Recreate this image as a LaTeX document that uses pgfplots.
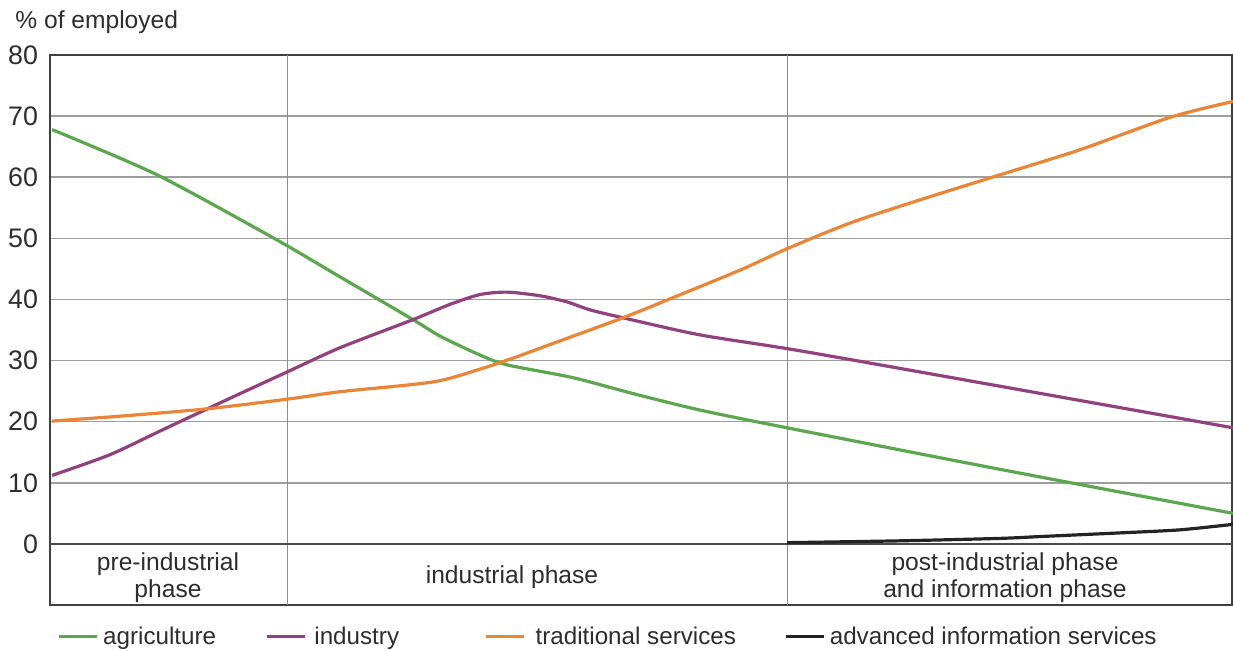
\documentclass[border=0pt]{standalone}
\usepackage{pgfplots}
\pgfplotsset{compat=1.18}
\usepackage{fontspec}
\setmainfont{Liberation Sans}
\definecolor{cagri}{RGB}{92,166,80}
\definecolor{cind}{RGB}{145,65,125}
\definecolor{cserv}{RGB}{234,132,54}
\definecolor{cadv}{RGB}{35,35,35}
\definecolor{ctext}{RGB}{45,45,45}
\begin{document}
\begin{tikzpicture}
\useasboundingbox (-25bp,-23bp) rectangle (591.5bp,302.5bp);
\begin{axis}[
  at={(0,0)}, anchor=south west,
  scale only axis, width=591bp, height=275bp,
  xmin=50, xmax=1232, ymin=-10, ymax=80,
  clip=false,
  xtick=\empty,
  ytick={10,20,...,80},
  extra y ticks={0},
  extra y tick style={grid style={black!70, line width=0.8bp}},
  extra x ticks={287,787},
  extra x tick labels={},
  extra x tick style={xmajorgrids=true, grid style={black!45, line width=0.5bp}},
  ymajorgrids=true,
  grid style={black!38, line width=0.8bp},
  major tick length=0pt,
  axis line style={black!75, line width=1bp},
  tick label style={font=\fontsize{13.4bp}{15bp}\selectfont, text=ctext},
  /pgf/number format/assume math mode=true,
  yticklabel style={xshift=-2.5bp},
  legend columns=4,
  legend style={draw=none, fill=none, inner sep=0pt, outer sep=0pt,
    column sep=0pt, at={(axis description cs:0,-0.058)}, anchor=west, xshift=3.5bp,
    font=\fontsize{12.1bp}{14bp}\selectfont, text=ctext,
    nodes={inner sep=0pt, anchor=west}},
  legend image code/.code={\draw[#1, line width=1.6bp] (0bp,0bp)--(19bp,0bp);},
]
\addplot[cagri, line width=1.6bp, smooth, tension=0.45] coordinates {
(52,67.8) (157,60.4) (273,50.1) (340,43.7) (413,36.7) (440,34.0)
(480,30.9) (507,29.3) (573,27.2) (633,24.6) (700,21.9) (787,19.0)
(1000,12.2) (1233,5.0)};
\addlegendentry{\makebox[83.5bp][l]{\hspace{2.5bp}agriculture}}
\addplot[cind, line width=1.6bp, smooth, tension=0.45] coordinates {
(52,11.2) (110,14.6) (163,18.7) (227,23.6) (288,28.2) (340,32.1) (413,36.7)
(450,39.2) (480,40.8) (507,41.2) (540,40.6) (567,39.6) (590,38.3) (623,37.0)
(700,34.2) (800,31.6) (1000,25.8) (1233,19.0)};
\addlegendentry{\makebox[89bp][l]{\hspace{4bp}industry}}
\addplot[cserv, line width=1.6bp, smooth, tension=0.45] coordinates {
(52,20.1) (120,20.9) (207,22.1) (288,23.7) (340,24.9) (433,26.5) (480,28.6)
(513,30.4) (563,33.4) (623,37.0) (667,39.9) (740,44.8) (787,48.3) (850,52.5)
(920,56.3) (1000,60.4) (1080,64.5) (1170,69.8) (1233,72.4)};
\addlegendentry{\makebox[129.5bp][l]{\hspace{5bp}traditional services}}
\addplot[cadv, line width=1.6bp, smooth, tension=0.45] coordinates {
(787,0.2) (900,0.5) (1000,0.9) (1040,1.2) (1120,1.8) (1180,2.3) (1233,3.2)};
\addlegendentry{\hspace{2bp}advanced information services}
\node[anchor=west, font=\fontsize{12.3bp}{14bp}\selectfont, text=ctext, inner sep=0pt]
  at (axis description cs:0,1) [xshift=-17.5bp, yshift=16.5bp] {\% of employed};
\begin{scope}[every node/.style={align=center, inner sep=0pt, text=ctext,
   font=\fontsize{12.3bp}{13.5bp}\selectfont}]
\node at (axis cs:168,-5.6) {pre-industrial\\phase};
\node at (axis cs:512,-5.4) {industrial phase};
\node at (axis cs:1005,-5.6) {post-industrial phase\\and information phase};
\end{scope}
\end{axis}
\end{tikzpicture}
\end{document}
